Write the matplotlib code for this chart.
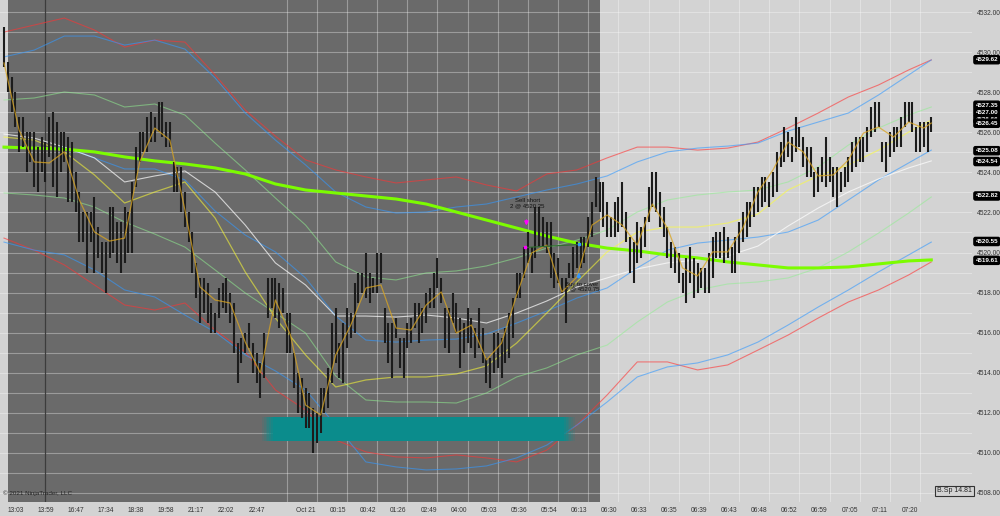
import matplotlib
matplotlib.use('Agg')
import matplotlib.pyplot as plt
from matplotlib.ticker import MultipleLocator, FixedLocator, FormatStrFormatter

plt.rcParams['font.family'] = ['Liberation Sans', 'DejaVu Sans']

# ---- price bars (high / low per bar, left to right) ----
bar_high = [
    4531.25, 4529.5, 4528.75, 4528.0, 4526.75, 4526.75, 4526.0, 4526.0, 4526.0, 4525.25,
    4525.75, 4525.5, 4526.75, 4527.0, 4526.5, 4526.0, 4526.0, 4525.75, 4525.5, 4524.0,
    4523.0, 4522.0, 4522.0, 4522.0, 4522.75, 4521.25, 4520.5, 4520.5, 4522.25, 4522.25,
    4521.5, 4521.5, 4522.25, 4522.0, 4523.5, 4525.25, 4526.0, 4526.0, 4526.75, 4527.0,
    4526.75, 4527.5, 4527.5, 4526.5, 4526.5, 4524.5, 4524.25, 4524.25, 4523.0, 4522.0,
    4521.0, 4519.5, 4518.75, 4518.75, 4518.5, 4517.5, 4517.0, 4518.25, 4518.5, 4518.75,
    4518.0, 4517.5, 4515.5, 4515.75, 4516.0, 4516.5, 4515.5, 4515.0, 4514.5, 4516.0,
    4518.75, 4518.75, 4518.75, 4518.5, 4518.25, 4517.0, 4517.0, 4515.0, 4514.0, 4513.75,
    4513.25, 4513.0, 4512.25, 4512.0, 4513.25, 4513.25, 4514.25, 4516.5, 4517.25, 4515.5,
    4516.5, 4517.25, 4517.0, 4518.5, 4519.0, 4519.0, 4520.0, 4519.0, 4518.75, 4520.0,
    4520.0, 4517.25, 4516.5, 4516.5, 4516.75, 4515.75, 4515.75, 4516.5, 4516.75, 4517.5,
    4517.5, 4517.25, 4518.0, 4518.25, 4519.0, 4519.75, 4518.75, 4517.25, 4517.25, 4518.0,
    4517.5, 4516.75, 4516.5, 4517.25, 4516.75, 4516.25, 4517.25, 4516.25, 4514.75, 4514.75,
    4516.0, 4516.0, 4515.75, 4516.25, 4517.0, 4517.75, 4519.0, 4519.0, 4520.25, 4521.0,
    4520.25, 4522.25, 4522.25, 4521.75, 4521.5, 4521.5, 4520.0, 4519.75, 4518.75, 4518.75,
    4519.5, 4520.25, 4520.5, 4520.75, 4520.75, 4521.75, 4522.5, 4523.75, 4523.5, 4523.5,
    4522.5, 4521.75, 4522.5, 4522.75, 4523.5, 4522.0, 4520.75, 4520.5, 4521.5, 4521.25,
    4521.75, 4523.25, 4524.0, 4524.0, 4523.0, 4522.25, 4521.25, 4520.5, 4520.25, 4520.0,
    4519.0, 4519.75, 4520.25, 4519.75, 4519.5, 4519.25, 4519.25, 4520.0, 4520.75, 4521.0,
    4521.0, 4521.25, 4520.75, 4520.25, 4520.75, 4521.5, 4522.0, 4522.5, 4522.5, 4523.25,
    4523.25, 4523.75, 4523.75, 4523.5, 4524.0, 4525.0, 4525.5, 4526.25, 4526.0, 4525.75,
    4526.75, 4526.25, 4525.75, 4525.25, 4525.25, 4524.0, 4524.25, 4524.75, 4525.75, 4524.75,
    4524.25, 4524.25, 4524.0, 4524.25, 4524.75, 4525.5, 4525.75, 4525.75, 4525.75, 4526.25,
    4527.25, 4527.5, 4527.5, 4525.5, 4525.5, 4526.0, 4526.25, 4526.25, 4526.75, 4527.5,
    4527.5, 4527.5, 4526.25, 4526.5, 4526.5, 4526.5, 4526.75,
]
bar_low = [
    4529.25, 4528.0, 4527.0, 4526.25, 4525.0, 4525.25, 4524.0, 4524.5, 4523.25, 4523.0,
    4524.0, 4523.5, 4524.75, 4523.25, 4522.75, 4524.0, 4524.5, 4522.5, 4522.5, 4522.0,
    4520.5, 4520.5, 4519.0, 4520.5, 4519.0, 4519.75, 4519.0, 4518.0, 4519.75, 4520.0,
    4519.5, 4519.0, 4519.5, 4520.0, 4520.0, 4523.25, 4524.5, 4525.0, 4525.0, 4525.5,
    4525.5, 4526.0, 4525.75, 4525.25, 4525.25, 4523.0, 4523.0, 4522.0, 4521.25, 4520.5,
    4519.0, 4517.75, 4516.5, 4517.0, 4516.5, 4516.0, 4516.0, 4516.75, 4517.25, 4517.0,
    4516.5, 4515.0, 4513.5, 4514.5, 4515.0, 4515.25, 4514.0, 4513.5, 4512.75, 4513.75,
    4516.75, 4517.25, 4516.75, 4516.25, 4517.0, 4515.0, 4515.0, 4513.25, 4512.0, 4511.75,
    4511.25, 4511.25, 4510.0, 4510.5, 4511.0, 4512.0, 4512.25, 4513.5, 4514.5, 4513.75,
    4513.5, 4515.25, 4515.75, 4516.0, 4517.5, 4518.0, 4517.75, 4517.5, 4518.0, 4518.0,
    4518.5, 4515.5, 4514.5, 4513.75, 4515.75, 4514.25, 4513.75, 4515.25, 4515.5, 4516.25,
    4515.5, 4516.0, 4516.5, 4517.25, 4517.25, 4518.25, 4517.5, 4515.25, 4515.0, 4516.5,
    4516.0, 4514.25, 4515.0, 4515.5, 4515.25, 4514.75, 4515.25, 4514.5, 4513.5, 4513.25,
    4514.0, 4514.25, 4513.75, 4514.5, 4514.75, 4515.75, 4517.75, 4517.75, 4518.75, 4519.5,
    4519.0, 4519.75, 4520.25, 4520.25, 4520.0, 4518.75, 4518.25, 4518.5, 4518.0, 4516.5,
    4518.75, 4518.75, 4519.25, 4519.25, 4519.5, 4520.25, 4520.75, 4522.25, 4522.0, 4521.25,
    4520.75, 4520.75, 4520.75, 4521.0, 4521.25, 4520.5, 4519.0, 4518.5, 4519.5, 4519.75,
    4520.25, 4521.5, 4522.25, 4522.0, 4521.25, 4520.75, 4519.75, 4519.25, 4519.0, 4518.5,
    4518.0, 4517.5, 4518.5, 4517.75, 4518.0, 4518.25, 4518.0, 4518.0, 4518.75, 4519.75,
    4519.75, 4519.5, 4519.75, 4519.0, 4519.0, 4520.0, 4520.5, 4520.75, 4521.25, 4521.75,
    4522.0, 4522.25, 4522.5, 4522.25, 4522.75, 4523.0, 4524.25, 4524.5, 4524.75, 4524.5,
    4525.0, 4525.25, 4524.25, 4523.75, 4523.75, 4522.75, 4523.0, 4523.5, 4523.25, 4523.5,
    4522.75, 4522.25, 4523.0, 4523.25, 4523.5, 4524.0, 4524.25, 4524.5, 4524.5, 4525.0,
    4525.75, 4526.0, 4526.25, 4524.5, 4524.0, 4524.75, 4525.0, 4525.25, 4525.25, 4526.25,
    4526.5, 4526.0, 4525.0, 4525.0, 4525.25, 4525.0, 4526.0,
]

# ---- indicators, read every 8 bars (last point = last bar) ----
ma_x = list(range(0, 241, 8)) + [246]
sma_slow = [4525.26, 4525.21, 4525.16, 4525.02, 4524.77, 4524.57, 4524.42, 4524.22, 4523.92, 4523.42,
            4523.12, 4522.97, 4522.82, 4522.67, 4522.42, 4522.02, 4521.62, 4521.22, 4520.82, 4520.47,
            4520.22, 4520.08, 4519.88, 4519.73, 4519.53, 4519.38, 4519.23, 4519.23, 4519.28, 4519.43,
            4519.58, 4519.63]
ma_yellow = [4525.76, 4525.61, 4525.02, 4523.87, 4522.47, 4523.02, 4523.52, 4521.72, 4519.03, 4516.73,
             4514.89, 4513.29, 4513.64, 4513.79, 4513.79, 4513.94, 4514.34, 4515.48, 4516.98, 4518.53,
             4520.03, 4521.02, 4521.27, 4521.27, 4521.47, 4521.92, 4523.12, 4523.82, 4524.37, 4525.11,
             4526.01, 4526.61]
ma_white = [4525.91, 4525.71, 4525.26, 4524.72, 4523.52, 4523.82, 4524.07, 4523.02, 4521.37, 4519.48,
            4518.38, 4516.83, 4516.83, 4516.78, 4516.88, 4516.73, 4516.48, 4516.98, 4517.58, 4518.28,
            4518.73, 4519.18, 4519.48, 4519.63, 4519.83, 4520.32, 4521.32, 4522.22, 4523.02, 4523.67,
            4524.22, 4524.57]
mid_blue = [4525.21, 4525.21, 4525.26, 4524.72, 4524.17, 4524.17, 4523.62, 4522.07, 4520.87, 4520.03,
            4518.73, 4516.83, 4515.63, 4515.53, 4515.63, 4515.68, 4515.93, 4516.48, 4517.08, 4517.73,
            4518.23, 4519.23, 4520.12, 4520.47, 4520.62, 4520.77, 4521.02, 4521.62, 4522.62, 4523.62,
            4524.47, 4525.11]
upper_blue = [4529.76, 4530.10, 4530.80, 4530.80, 4530.35, 4530.60, 4530.15, 4528.71, 4526.96, 4525.61,
              4524.37, 4523.02, 4522.27, 4521.97, 4522.02, 4522.27, 4522.42, 4522.77, 4523.12, 4523.42,
              4523.82, 4524.52, 4525.02, 4525.21, 4525.31, 4525.46, 4526.06, 4526.51, 4526.96, 4527.86,
              4528.86, 4529.61]
lower_blue = [4520.52, 4520.12, 4519.88, 4519.13, 4518.13, 4517.78, 4516.88, 4516.03, 4514.89, 4514.09,
              4513.14, 4511.39, 4509.55, 4509.30, 4509.15, 4509.20, 4509.35, 4509.75, 4510.39, 4511.39,
              4512.54, 4513.79, 4514.29, 4514.49, 4514.89, 4515.53, 4516.38, 4517.28, 4518.13, 4519.03,
              4519.88, 4520.52]
upper_red = [4531.00, 4531.35, 4531.70, 4531.10, 4530.25, 4530.60, 4530.50, 4528.86, 4527.11, 4525.81,
             4524.62, 4524.12, 4523.77, 4523.47, 4523.62, 4523.77, 4523.37, 4523.07, 4523.92, 4524.12,
             4524.72, 4525.26, 4525.26, 4525.11, 4525.21, 4525.51, 4526.21, 4526.96, 4527.76, 4528.36,
             4529.11, 4529.61]
lower_red = [4520.72, 4520.12, 4519.38, 4518.38, 4517.38, 4517.13, 4517.48, 4516.13, 4515.04, 4513.14,
             4512.14, 4510.64, 4510.05, 4509.80, 4509.75, 4509.90, 4509.75, 4509.55, 4510.14, 4511.39,
             4512.89, 4514.54, 4514.54, 4514.14, 4514.39, 4515.13, 4515.88, 4516.73, 4517.53, 4518.13,
             4518.88, 4519.53]
upper_green = [4527.61, 4527.71, 4528.01, 4527.86, 4527.26, 4527.41, 4526.86, 4525.46, 4524.12, 4522.72,
               4521.37, 4519.53, 4518.78, 4518.63, 4518.98, 4519.08, 4519.33, 4519.73, 4520.22, 4520.62,
               4521.12, 4522.02, 4522.62, 4522.87, 4523.02, 4523.12, 4523.52, 4524.27, 4525.36, 4526.21,
               4526.86, 4527.26]
lower_green = [4522.97, 4522.87, 4522.72, 4522.27, 4521.52, 4520.92, 4520.27, 4519.13, 4517.98, 4516.98,
               4515.98, 4513.84, 4512.64, 4512.54, 4512.54, 4512.49, 4512.99, 4513.79, 4514.24, 4514.89,
               4515.38, 4516.53, 4517.53, 4518.13, 4518.43, 4518.53, 4518.73, 4519.23, 4520.03, 4520.97,
               4521.97, 4522.77]

# fast average, read every 4 bars
fast_x = list(range(0, 245, 4)) + [246]
fast_ma = [4529.46, 4526.11, 4524.52, 4524.47, 4525.02, 4522.62, 4521.02, 4520.57, 4520.72, 4524.52,
           4526.21, 4525.61, 4522.12, 4518.28, 4517.63, 4517.48, 4515.53, 4513.99, 4517.63, 4515.88,
           4512.39, 4511.89, 4514.89, 4516.38, 4518.23, 4518.38, 4516.23, 4516.13, 4517.38, 4518.03,
           4515.98, 4516.38, 4514.64, 4515.48, 4517.88, 4519.98, 4520.37, 4518.03, 4518.78, 4521.37,
           4521.87, 4521.37, 4520.37, 4522.42, 4521.22, 4519.23, 4518.83, 4520.03, 4520.03, 4521.22,
           4523.02, 4524.12, 4525.51, 4525.02, 4523.82, 4523.87, 4524.62, 4525.96, 4526.26, 4525.76,
           4526.51, 4526.21, 4526.46]

# time axis labels
tick_pos = [3, 11, 19, 27, 35, 43, 51, 59, 67, 80, 88.6, 96.5, 104.5, 112.7, 120.7, 128.6,
            136.6, 144.6, 152.5, 160.5, 168.4, 176.4, 184.4, 192.3, 200.3, 208.2, 216.2,
            224.4, 232.4, 240.3]
tick_lbl = ['13:03', '13:59', '16:47', '17:34', '18:38', '19:58', '21:17', '22:02', '22:47',
            'Oct 21', '00:15', '00:42', '01:26', '02:49', '04:00', '05:03', '05:36', '05:54',
            '06:13', '06:30', '06:33', '06:35', '06:39', '06:43', '06:48', '06:52', '06:59',
            '07:05', '07:11', '07:20']

# right side price markers
marker_vals = [4529.62, 4527.35, 4527.00, 4526.66, 4526.45, 4525.08, 4524.54, 4522.82, 4520.55, 4519.61]

# trades
sell_price = 4520.25
cover_price = 4520.75
sell_bar = 138.2
cover_bar = 152.5

# support zone
zone_lo, zone_hi = 4510.6, 4511.8
zone_start, zone_end = 68.4, 151.5

# ---- figure ----
light_bg = '#d3d3d3'
dark_bg = '#6a6a6a'

fig = plt.figure(figsize=(10, 5.16), dpi=100)
fig.patch.set_facecolor(light_bg)
ax = fig.add_axes([0, 1 - 502 / 516, 0.972, 502 / 516])
ax.set_facecolor(light_bg)
for s in ax.spines.values():
    s.set_visible(False)

ax.set_xlim(-1.06, 256.8)
ax.set_ylim(4507.55, 4532.6)

# dark shaded part of the chart
ax.axvspan(1.06, 158.1, color=dark_bg, zorder=0.1, lw=0)
ax.axvline(10.88, color='#3c3c3c', lw=0.9, zorder=0.6)

# grid
ax.set_axisbelow(True)
ax.yaxis.set_major_locator(MultipleLocator(2))
ax.yaxis.set_minor_locator(MultipleLocator(1))
ax.xaxis.set_major_locator(FixedLocator(tick_pos))
ax.xaxis.set_minor_locator(FixedLocator(list(range(3, 250, 8))))
ax.set_xticklabels(tick_lbl)
ax.grid(True, which='minor', color='white', alpha=0.33, lw=0.8)
ax.grid(True, which='major', axis='y', color='white', alpha=0.33, lw=0.8)
ax.yaxis.tick_right()
ax.yaxis.set_major_formatter(FormatStrFormatter('%.2f'))
ax.tick_params(axis='both', which='both', length=0, labelsize=4.8, labelcolor='#333333')
ax.tick_params(axis='y', pad=3.6)
ax.tick_params(axis='x', pad=3.5)

# indicator lines
ax.plot(ma_x, upper_green, color='#90ee90', alpha=0.55, lw=0.8, zorder=1)
ax.plot(ma_x, lower_green, color='#90ee90', alpha=0.55, lw=0.8, zorder=1)
ax.plot(ma_x, upper_red, color='#ff3333', alpha=0.6, lw=0.8, zorder=1)
ax.plot(ma_x, lower_red, color='#ff3333', alpha=0.6, lw=0.8, zorder=1)
ax.plot(ma_x, upper_blue, color='#3399ff', alpha=0.6, lw=0.8, zorder=1)
ax.plot(ma_x, lower_blue, color='#3399ff', alpha=0.6, lw=0.8, zorder=1)
ax.plot(ma_x, mid_blue, color='#3399ff', alpha=0.6, lw=0.8, zorder=1)
ax.plot(ma_x, ma_white, color='white', alpha=0.7, lw=0.8, zorder=1)
ax.plot(ma_x, ma_yellow, color='#ffff33', alpha=0.55, lw=0.9, zorder=1)
ax.plot(ma_x, sma_slow, color='#7cfc00', lw=2.2, zorder=1.5)

# support zone with soft ends
zone_color = '#0b8c8c'
ax.fill_between([zone_start + 3, zone_end - 3], zone_lo, zone_hi, color=zone_color, lw=0, zorder=2.5)
for k in range(6):
    a = (k + 1) / 7
    ax.fill_between([zone_start + k * 0.5, zone_start + (k + 1) * 0.5], zone_lo, zone_hi,
                    color=zone_color, alpha=a, lw=0, zorder=2.5)
    ax.fill_between([zone_end - (k + 1) * 0.5, zone_end - k * 0.5], zone_lo, zone_hi,
                    color=zone_color, alpha=a, lw=0, zorder=2.5)

# bars
bar_x = list(range(len(bar_high)))
ax.vlines(bar_x, bar_low, bar_high, color='#1c1c1c', lw=1.5, zorder=3)

ax.plot(fast_x, fast_ma, color='#daa520', alpha=0.75, lw=0.9, zorder=3.2)

# trade markers
ax.plot([sell_bar, cover_bar], [sell_price, cover_price - 0.35], color='#2e6e2e', lw=0.8, zorder=3.3)
ax.plot(sell_bar, sell_price, 's', color='#ff00ff', ms=2, zorder=3.5)
ax.annotate('', xy=(sell_bar + 0.4, 4521.2), xytext=(sell_bar + 0.4, 4521.75),
            arrowprops=dict(arrowstyle='-|>', color='#ff00ff', lw=1.2, mutation_scale=5), zorder=3.5)
ax.text(sell_bar + 0.7, 4522.45, 'Sell short\n2 @ 4520.25', ha='center', va='center',
        fontsize=4.3, color='#111111', linespacing=1.0, zorder=4)
ax.plot(cover_bar, cover_price - 0.35, 's', color='#3399ff', ms=2, zorder=3.5)
ax.annotate('', xy=(cover_bar, 4519.15), xytext=(cover_bar, 4518.6),
            arrowprops=dict(arrowstyle='-|>', color='#3399ff', lw=1.2, mutation_scale=5), zorder=3.5)
ax.text(cover_bar + 0.8, 4518.3, 'Buy to cover\n2 @ 4520.75', ha='center', va='center',
        fontsize=4.3, color='#111111', linespacing=1.0, zorder=4)

# price markers on right axis
for v in marker_vals:
    ax.annotate(f'{v:.2f}', xy=(1.0, v), xycoords=('axes fraction', 'data'),
                xytext=(2.5, 0), textcoords='offset points', ha='left', va='center',
                fontsize=4.5, color='white', fontweight='bold',
                bbox=dict(boxstyle='round,pad=0.25', fc='black', ec='black'), zorder=5,
                annotation_clip=False)

ax.text(0.003, 0.012, '\u00a9 2021 NinjaTrader, LLC', transform=ax.transAxes,
        fontsize=4.5, color='#222222', ha='left', va='bottom')
ax.text(0.964, 4508.1, 'B.Sp 14.81', fontsize=5, color='#222222', ha='left', va='center',
        transform=ax.get_yaxis_transform(),
        bbox=dict(boxstyle='square,pad=0.25', fc=light_bg, ec='#333333', lw=0.8))

fig.savefig('out.png', dpi=100, facecolor=fig.get_facecolor())
